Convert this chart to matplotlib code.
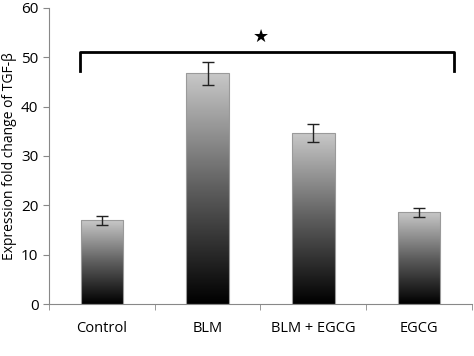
import numpy as np
import matplotlib
matplotlib.use("Agg")
import matplotlib.pyplot as plt

categories = ["Control", "BLM", "BLM + EGCG", "EGCG"]
values = [17.0, 46.7, 34.6, 18.6]
errors = [0.9, 2.4, 1.8, 0.9]
yticks = [0, 10, 20, 30, 40, 50, 60]

plt.rcParams['font.family'] = ['Open Sans', 'DejaVu Sans']

fig = plt.figure(figsize=(4.74, 3.56), dpi=100)
ax = fig.add_axes([0.103, 0.146, 0.893, 0.832])

x = np.arange(len(categories))
width = 0.4
bars = ax.bar(x, values, width=width, color='none', edgecolor='#9a9a9a', linewidth=0.8, zorder=3)

# vertical gradient: light grey top -> black bottom
grad = np.linspace(0, 1, 256).reshape(-1, 1)
cmap = matplotlib.colors.LinearSegmentedColormap.from_list("g", ["#000000", "#5e5e5e", "#c8c8c8"])
for b in bars:
    x0, y0 = b.get_x(), b.get_y()
    w, h = b.get_width(), b.get_height()
    im = ax.imshow(grad, cmap=cmap, aspect='auto', origin='lower',
                   extent=[x0, x0 + w, y0, y0 + h], zorder=2)
    im.set_clip_path(b)

ax.errorbar(x, values, yerr=errors, fmt='none', ecolor='#222222', elinewidth=1, capsize=4, capthick=1, zorder=4)

# significance bracket
bx0, bx1, by, bdrop = -0.21, 3.33, 51.1, 3.8
ax.plot([bx0, bx0, bx1, bx1], [by - bdrop, by, by, by - bdrop], color='black', lw=2, solid_joinstyle='round', zorder=4)
ax.text(1.5, by + 1.2, "★", ha='center', va='bottom', fontsize=13, family=['DejaVu Sans'])

ax.set_xlim(-0.5, 3.5)
ax.set_ylim(0, 60)
ax.set_yticks(yticks)
ax.set_xticks(x)
ax.set_xticklabels(categories, fontsize=10.5)
ax.set_xticks(np.arange(-0.5, 4.0, 1.0), minor=True)
ax.tick_params(axis='x', which='major', length=0, pad=12)
ax.tick_params(axis='x', which='minor', length=4, color='#888888')
ax.tick_params(axis='y', length=4, color='#888888', labelsize=11)
for s in ['top', 'right']:
    ax.spines[s].set_visible(False)
for s in ['left', 'bottom']:
    ax.spines[s].set_color('#888888')
ax.set_ylabel("Expression fold change of TGF-β", fontsize=10, labelpad=3)

fig.savefig("out.png", dpi=100)
